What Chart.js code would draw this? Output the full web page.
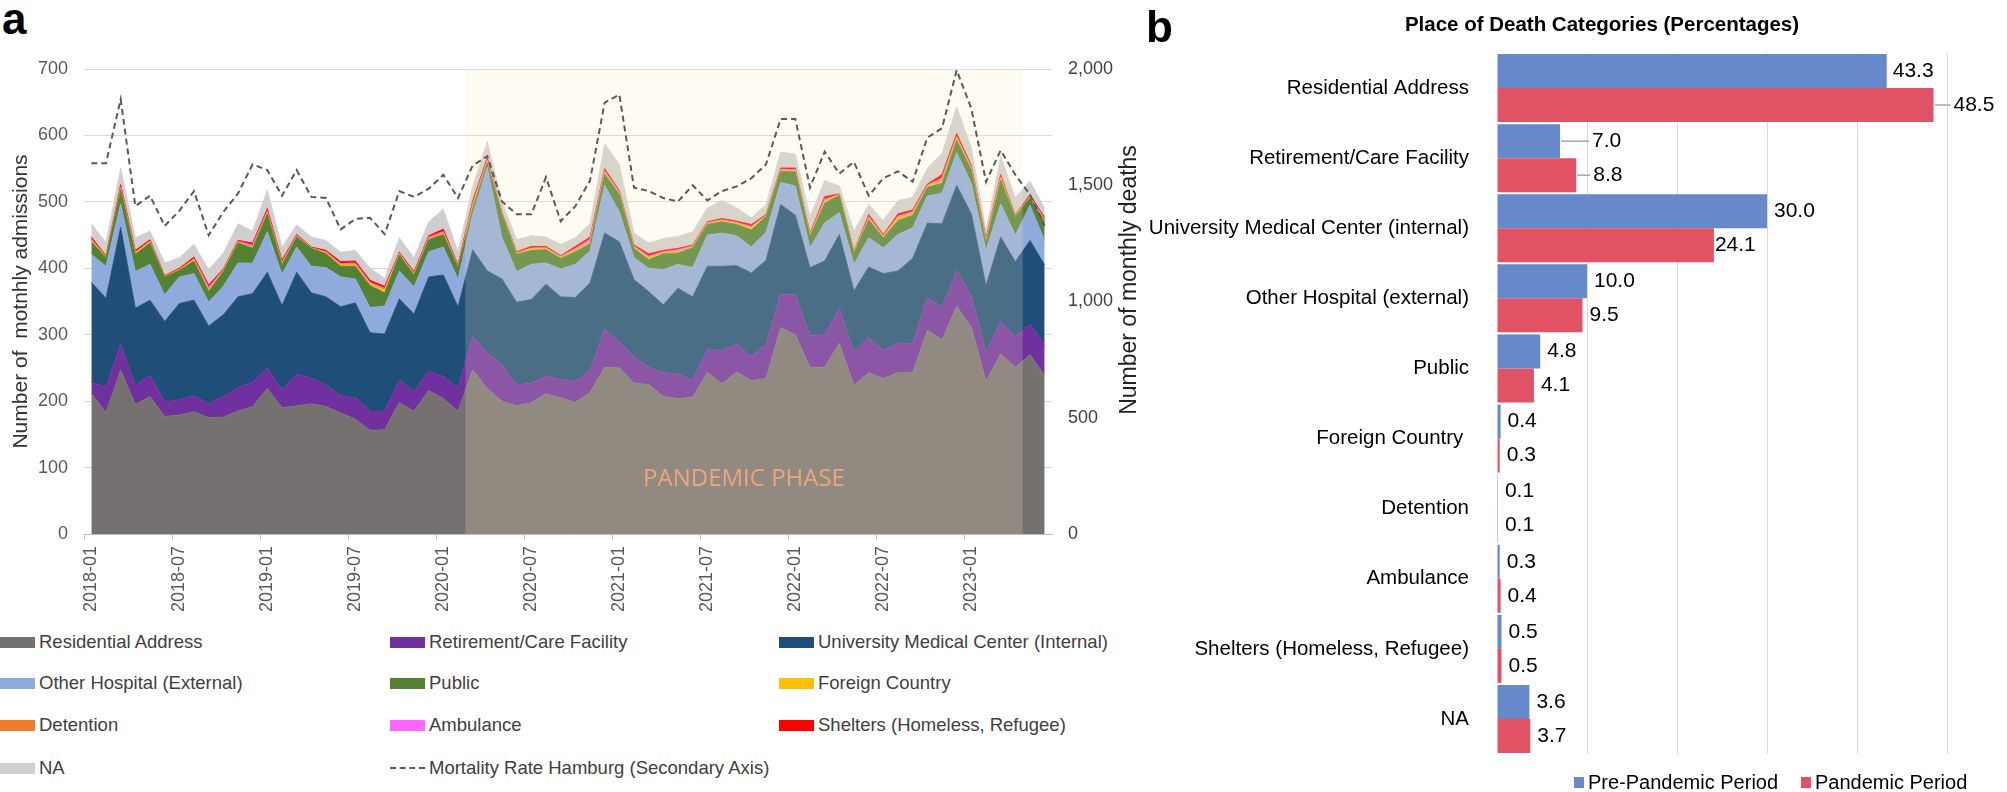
<!DOCTYPE html>
<html>
<head>
<meta charset="utf-8">
<script src="https://cdn.jsdelivr.net/npm/chart.js@4.4.1/dist/chart.umd.min.js"></script>
<style>
  body { margin: 0; width: 2007px; height: 792px; background: #fff; position: relative; overflow: hidden;
         font-family: "Liberation Sans", Arial, sans-serif; }
  .abs { position: absolute; }
  .panel { font-weight: bold; font-size: 44px; line-height: 1; color: #000; }
  .legL { position: absolute; height: 24px; display: flex; align-items: center; font-size: 18.5px; color: #404040; white-space: nowrap; }
  .legL .sw { width: 35px; height: 11px; margin-right: 4px; }
  .legR { position: absolute; display: flex; align-items: center; font-size: 20px; color: #000; white-space: nowrap; }
  .legR .sw { width: 10px; height: 11px; margin-right: 4px; }
</style>
</head>
<body>
<div class="abs panel" style="left:2px; top:-3px;">a</div>
<canvas id="areaChart" class="abs" style="left:0; top:0;" width="1150" height="630"></canvas>
<div id="legendLeft"></div>

<canvas id="barChart" class="abs" style="left:1100px; top:0;" width="907" height="792"></canvas>
<div class="abs panel" style="left:1146px; top:5px;">b</div>
<div class="abs" style="left:1302px; top:14px; width:600px; text-align:center; font-weight:bold; font-size:20.5px; line-height:1;">Place of Death Categories (Percentages)</div>
<div id="legendRight"></div>

<script>
// Monatsachse (Jan 2018 - Jun 2023)
const months = [
  '2018-01','2018-02','2018-03','2018-04','2018-05','2018-06','2018-07','2018-08','2018-09','2018-10','2018-11','2018-12',
  '2019-01','2019-02','2019-03','2019-04','2019-05','2019-06','2019-07','2019-08','2019-09','2019-10','2019-11','2019-12',
  '2020-01','2020-02','2020-03','2020-04','2020-05','2020-06','2020-07','2020-08','2020-09','2020-10','2020-11','2020-12',
  '2021-01','2021-02','2021-03','2021-04','2021-05','2021-06','2021-07','2021-08','2021-09','2021-10','2021-11','2021-12',
  '2022-01','2022-02','2022-03','2022-04','2022-05','2022-06','2022-07','2022-08','2022-09','2022-10','2022-11','2022-12',
  '2023-01','2023-02','2023-03','2023-04','2023-05','2023-06'
];

// monthly admissions per place of death (stacked)
const residential = [212,183,247,195,207,177,179,184,175,176, 185,192,219,190,193,196,192,182,173,156,
                     157,198,185,216,204,185,247,219,200,193, 198,211,205,198,213,251,250,227,225,207,
                     204,206,243,226,244,231,234,311,300,251, 251,287,224,243,234,243,243,307,292,343,
                     311,230,271,251,270,239];
const retirement  = [16,38,39,28,32,22,23,24,21,31, 35,37,31,27,47,39,32,26,32,29,
                     28,34,29,29,33,35,50,54,54,32, 29,27,28,32,33,57,39,40,26,36,
                     37,26,35,50,42,36,52,50,61,48, 49,53,50,53,42,45,44,49,49,54,
                     48,43,49,46,46,46];
const umcInternal = [151,134,176,117,113,121,145,144,117,123, 137,133,144,127,154,128,133,134,143,118,
                     116,122,117,142,153,122,131,123,130,124, 126,138,124,126,132,145,151,116,114,102,
                     129,125,125,127,118,126,126,135,119,102, 111,111,92,106,116,108,128,112,126,128,
                     123,101,127,113,126,120];
const otherHosp   = [42,48,35,55,54,40,40,40,36,43, 51,46,61,47,38,40,44,45,36,38,
                     42,42,41,38,42,42,53,156,62,46, 53,32,42,50,48,72,45,33,35,53,
                     36,44,47,50,45,39,42,33,44,30, 57,33,40,44,39,55,46,41,46,49,
                     46,53,50,40,53,37];
const publicPlace = [19,13,21,26,32,27,10,19,16,22, 30,22,27,14,15,27,21,16,19,33,
                     20,24,18,18,19,17,9,7,35,26, 21,20,16,19,11,17,26,14,13,24,
                     17,30,16,17,17,26,24,17,21,17, 30,26,17,27,15,21,19,13,15,19,
                     20,11,36,27,11,28];
const foreign     = [2,1,2,2,1.5,0.5,1,2,2,1.5, 1,1.5,2,1.5,1,0.5,1.5,2,2.5,3,
                     4,1,1.5,1.5,2,1,3,2,1,1, 2,1.5,1.5,2.5,2,2,1.5,1.5,2.5,1.5,
                     2,1,1,1.5,1.5,3,1,1,1.5,1.5, 3,0.5,1,2,1.5,4,3,1.5,4,3,
                     2,2,3,1,1.5,2];
const detention   = [0.5,0,0.5,0.5,0.5,0,0,0.5,0.5,0.5, 0.5,0.5,0.5,0.5,0.5,0,0.5,0.5,0.5,0.5,
                     1,0.5,0.5,0.5,0.5,0.5,1,0.5,0,0.5, 0.5,0.5,0,0.5,0.5,0.5,0.5,0.5,0.5,0.5,
                     0.5,0.5,0.5,0.5,0.5,0.5,0,0.5,0.5,0.5, 0.5,0,0,0.5,0.5,0.5,0.5,0.5,1,0.5,
                     0.5,0.5,0.5,0,0.5,0.5];
const ambulance   = [1.5,0.5,1.5,1,1,0.5,0.5,1,4,0.5, 1,3,2,2,1,0.5,1,1.5,2,1.5,
                     2,1,1,2,2,1,3,2,0.5,1, 1,1,1,2,4,2,2,1,2,1,
                     2.5,1,1,1,1,1.5,0.5,1.5,1.5,1, 2.5,0.5,0.5,2,1,2,1.5,1,3,2,
                     1.5,2,1,0.5,1,1];
const shelters    = [3,1.5,4,2.5,2,1,1.5,2.5,3.5,1.5, 1.5,3,3.5,3,1.5,1,2,3,3,3,
                     3,1.5,2,2,3.5,1.5,5,3.5,1.5,1.5, 2.5,2,1.5,3,3.5,3.5,2,2,4,2,
                     2,1.5,1.5,2,2,3,1.5,2,2.5,2, 4,1,1.5,3.5,2,3.5,3,2,5,4.5,
                     3,3.5,3.5,1.5,2,2.5];
const notAvail    = [20,20,25,19,13,19,16,19,23,24, 25,18,28,20,14,15,15,14,16,18,
                     12,22,21,21,30,20,21,24,16,18, 16,14,17,13,20,38,39,18,16,18,
                     18,20,21,27,20,10,15,24,21,25, 24,12,30,15,21,20,19,24,32,40,
                     27,11,28,26,20,14];

// Sterbefaelle Hamburg (Sekundaerachse)
const mortality = [1595,1595,1870,1410,1455,1325,1390,1475,1285,1385, 1465,1590,1565,1455,1565,1450,1445,1310,1355,1360,
                   1290,1475,1450,1485,1545,1445,1585,1625,1430,1375, 1375,1535,1345,1410,1520,1855,1890,1490,1475,1445,
                   1430,1500,1435,1475,1495,1530,1590,1785,1785,1490, 1645,1550,1600,1455,1530,1560,1515,1705,1745,1995,
                   1830,1515,1650,1545,1460,1325];

const seriesNames  = ['Residential Address','Retirement/Care Facility','University Medical Center (Internal)',
                      'Other Hospital (External)','Public','Foreign Country','Detention','Ambulance',
                      'Shelters (Homeless, Refugee)','NA'];
const seriesColors = ['#767171','#7030a0','#1f4e79','#8faadc','#548235','#ffc000','#ed7d31','#ff66ff','#ff0000','#d0cece'];
const seriesData   = [residential, retirement, umcInternal, otherHosp, publicPlace, foreign, detention, ambulance, shelters, notAvail];

// Panel b
const places      = ['Residential Address','Retirement/Care Facility','University Medical Center (internal)',
                     'Other Hospital (external)','Public','Foreign Country ','Detention','Ambulance',
                     'Shelters (Homeless, Refugee)','NA'];
const prePandemic = [43.3, 7.0, 30.0, 10.0, 4.8, 0.4, 0.1, 0.3, 0.5, 3.6];
const pandemic    = [48.5, 8.8, 24.1, 9.5, 4.1, 0.3, 0.1, 0.4, 0.5, 3.7];

const FONT = '"Liberation Sans", Arial, sans-serif';
Chart.defaults.font.family = FONT;

// Pandemie-Phase: helle Ueberlagerung zwischen den Flaechen und der Linie
const pandemicShade = {
  id: 'pandemicShade',
  afterDatasetDraw(chart, args) {
    if (args.index !== 0) return;
    const {ctx, chartArea, scales: {x, y}} = chart;
    const x0 = (x.getPixelForValue(25) + x.getPixelForValue(26)) / 2;
    const x1 = (x.getPixelForValue(63) + x.getPixelForValue(64)) / 2;
    ctx.save();
    ctx.fillStyle = 'rgba(250,240,190,0.2)';
    ctx.fillRect(x0, chartArea.top, x1 - x0, chartArea.bottom - chartArea.top);
    ctx.font = '400 24px "Open Sans", ' + FONT;
    ctx.fillStyle = '#eda57f';
    ctx.textAlign = 'center';
    ctx.textBaseline = 'middle';
    ctx.fillText('PANDEMIC PHASE', (x.getPixelForValue(44) + x.getPixelForValue(45)) / 2, y.getPixelForValue(82));
    ctx.restore();
  }
};

// Titel der rechten Achse (von unten nach oben lesen)
const rightTitle = {
  id: 'rightTitle',
  afterDraw(chart) {
    const {ctx} = chart;
    const s = chart.scales.y1;
    ctx.save();
    ctx.translate(s.right - 20, 280);
    ctx.rotate(-Math.PI / 2);
    ctx.font = '23px ' + FONT;
    ctx.fillStyle = '#222';
    ctx.textAlign = 'center';
    ctx.textBaseline = 'middle';
    ctx.fillText('Number of monthly deaths', 0, 0);
    ctx.restore();
  }
};

let areaSets = seriesData.map((d, i) => ({
  label: seriesNames[i],
  data: d,
  yAxisID: 'y',
  fill: i === 0 ? 'origin' : '-1',
  backgroundColor: seriesColors[i],
  borderColor: seriesColors[i],
  borderWidth: 0.8,
  pointRadius: 0,
  order: 1
}));

areaSets.push({
  label: 'Mortality Rate Hamburg (Secondary Axis)',
  data: mortality,
  yAxisID: 'y1',
  fill: false,
  borderColor: '#595959',
  borderDash: [6, 4],
  borderWidth: 2,
  pointRadius: 0,
  order: 0
});

let areaChart = new Chart(document.getElementById('areaChart').getContext('2d'), {
  type: 'line',
  data: { labels: months, datasets: areaSets },
  options: {
    responsive: false,
    animation: false,
    layout: { padding: { top: 69, left: 0, right: 0, bottom: 0 } },
    elements: { line: { tension: 0 } },
    plugins: { legend: { display: false }, tooltip: { enabled: false } },
    scales: {
      x: {
        type: 'category',
        offset: true,
        grid: {
          offset: true, drawOnChartArea: false, tickLength: 6,
          color: ctx => ctx.index % 6 === 0 ? '#bfbfbf' : 'rgba(0,0,0,0)'
        },
        border: { color: '#bfbfbf' },
        ticks: {
          autoSkip: false, minRotation: 90, maxRotation: 90, padding: 6,
          color: '#595959', font: { size: 18 },
          callback: function (v, i) { return i % 6 === 0 ? this.getLabelForValue(v) : ''; }
        },
        afterFit: s => { s.height = 96; }
      },
      y: {
        stacked: true, min: 0, max: 700,
        ticks: { stepSize: 100, padding: 16, color: '#595959', font: { size: 18 } },
        grid: { color: '#d9d9d9', drawTicks: false },
        border: { display: false },
        title: { display: true, text: 'Number of  motnhly admissions', color: '#333', font: { size: 21 }, padding: { top: 9, bottom: 0 } },
        afterFit: s => { s.width = 84; }
      },
      y1: {
        position: 'right', min: 0, max: 2000,
        ticks: { stepSize: 500, padding: 16, color: '#404040', font: { size: 18 }, callback: v => v.toLocaleString('en-US') },
        grid: { drawOnChartArea: false, drawTicks: false },
        border: { display: false },
        afterFit: s => { s.width = 98; }
      }
    }
  },
  plugins: [pandemicShade, rightTitle]
});

// Legende links (3 Spalten)
const legendLeft = document.getElementById('legendLeft');
const colX = [0, 390, 779];
const rowY = [642, 683, 725, 768];
areaSets.forEach((ds, k) => {
  const item = document.createElement('div');
  item.className = 'legL';
  item.style.left = colX[k % 3] + 'px';
  item.style.top = (rowY[Math.floor(k / 3)] - 12) + 'px';
  const sw = document.createElement('span');
  sw.className = 'sw';
  if (ds.yAxisID === 'y1') {
    sw.style.height = '0';
    sw.style.borderTop = '2px dashed #595959';
  } else {
    sw.style.background = ds.backgroundColor;
  }
  item.appendChild(sw);
  item.appendChild(document.createTextNode(ds.label));
  legendLeft.appendChild(item);
});

// Datenbeschriftungen der Balken
const labelGap = { '0-0': 6, '1-0': 20, '0-1': 32, '1-1': 17, '1-2': 1 };
const leaderLine = { '1-0': true, '0-1': true, '1-1': true };

const barLabels = {
  id: 'barLabels',
  afterDatasetsDraw(chart) {
    const {ctx} = chart;
    ctx.save();
    ctx.font = '21px ' + FONT;
    ctx.textBaseline = 'middle';
    ctx.textAlign = 'left';
    chart.data.datasets.forEach((ds, d) => {
      chart.getDatasetMeta(d).data.forEach((bar, i) => {
        const key = d + '-' + i;
        const gap = labelGap[key] !== undefined ? labelGap[key] : 7;
        if (leaderLine[key]) {
          ctx.strokeStyle = '#a6a6a6';
          ctx.lineWidth = 1.5;
          ctx.beginPath();
          ctx.moveTo(bar.x + 1, bar.y);
          ctx.lineTo(bar.x + gap - 3, bar.y);
          ctx.stroke();
        }
        ctx.fillStyle = '#000';
        ctx.fillText(ds.data[i].toFixed(1), bar.x + gap, bar.y);
      });
    });
    ctx.restore();
  }
};

let barChart = new Chart(document.getElementById('barChart').getContext('2d'), {
  type: 'bar',
  data: {
    labels: places,
    datasets: [
      { label: 'Pre-Pandemic Period', data: prePandemic, backgroundColor: '#6689cc' },
      { label: 'Pandemic Period', data: pandemic, backgroundColor: '#e05264' }
    ]
  },
  options: {
    indexAxis: 'y',
    responsive: false,
    animation: false,
    layout: { padding: { top: 53, bottom: 38, right: 60, left: 0 } },
    datasets: { bar: { categoryPercentage: 0.97, barPercentage: 1 } },
    plugins: { legend: { display: false }, tooltip: { enabled: false } },
    scales: {
      x: {
        min: 0, max: 50,
        ticks: { display: false, stepSize: 10 },
        grid: { drawTicks: false, color: ctx => ctx.tick && ctx.tick.value === 0 ? 'rgba(0,0,0,0)' : '#d9d9d9' },
        border: { display: false },
        afterFit: s => { s.height = 0; }
      },
      y: {
        grid: { display: false },
        border: { display: false },
        ticks: { color: '#000', font: { size: 20.5 }, padding: 20 },
        afterFit: s => { s.width = 397; }
      }
    }
  },
  plugins: [barLabels]
});

// Legende rechts
const legendRight = document.getElementById('legendRight');
[[1574, 0], [1801, 1]].forEach(([left, d]) => {
  const ds = barChart.data.datasets[d];
  const item = document.createElement('div');
  item.className = 'legR';
  item.style.left = left + 'px';
  item.style.top = '771px';
  const sw = document.createElement('span');
  sw.className = 'sw';
  sw.style.background = ds.backgroundColor;
  item.appendChild(sw);
  item.appendChild(document.createTextNode(ds.label));
  legendRight.appendChild(item);
});
</script>
</body>
</html>
